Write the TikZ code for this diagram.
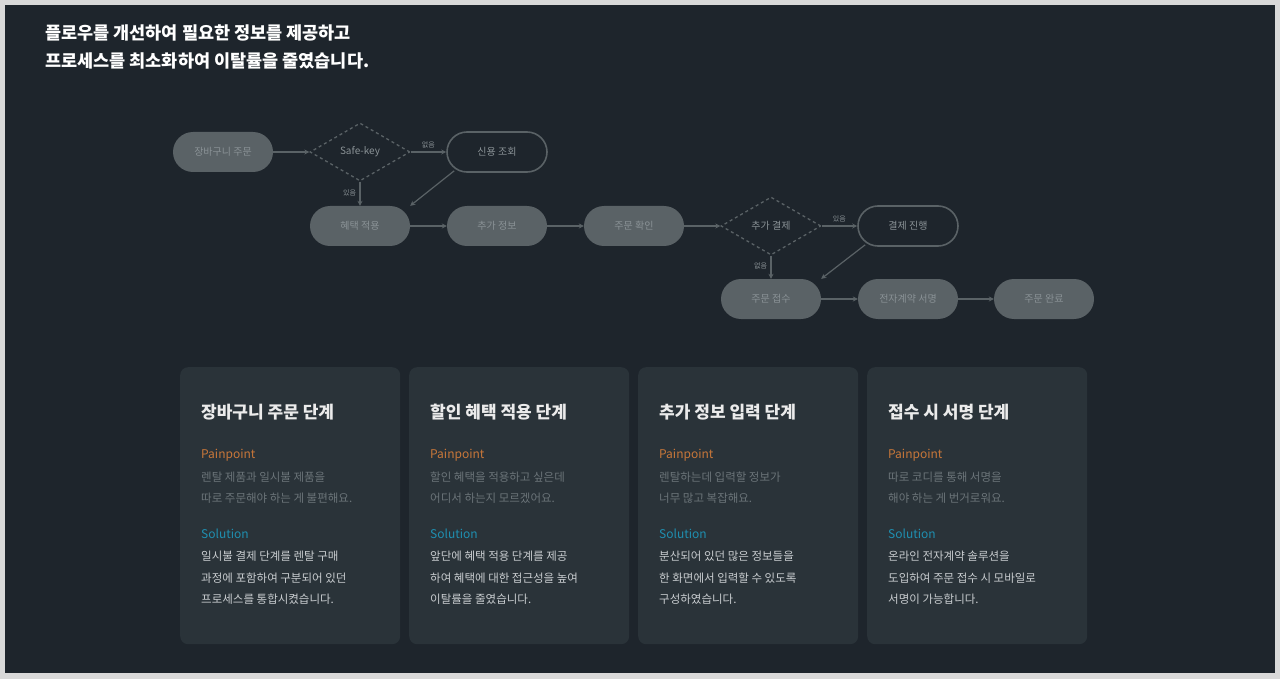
\documentclass[tikz,border=0pt]{standalone}
\usepackage{fontspec}
\setmainfont{Noto Sans CJK KR}
\usetikzlibrary{shapes.geometric,arrows.meta}
\definecolor{bg}{HTML}{1E252C}
\definecolor{pill}{HTML}{5A6266}
\definecolor{pilltxt}{HTML}{8A9296}
\definecolor{card}{HTML}{2A3339}
\definecolor{pain}{HTML}{C8773A}
\definecolor{sol}{HTML}{1F8FB0}
\definecolor{ptxt}{HTML}{6B7479}
\definecolor{stxt}{HTML}{C9CDD0}
\tikzset{
 fillpill/.style={rounded corners=20pt,fill=pill,minimum width=100pt,minimum height=40pt,text=pilltxt,font=\fontsize{10}{12}\selectfont,inner sep=0pt},
 linepill/.style={rounded corners=20pt,draw=pill,line width=1.6pt,minimum width=100pt,minimum height=40pt,text=pilltxt,font=\fontsize{10}{12}\selectfont,inner sep=0pt},
 dia/.style={diamond,draw=pill,dashed,line width=1.3pt,minimum width=100pt,minimum height=58pt,aspect=1.8,text=pilltxt,font=\fontsize{10}{12}\selectfont,inner sep=0pt},
 conn/.style={draw=pill,line width=1.2pt,-{Stealth[length=5pt,width=5pt]}},
 elab/.style={text=pilltxt,font=\fontsize{7}{8}\selectfont},
 cardbox/.style={fill=card,rounded corners=8pt,minimum width=220pt,minimum height=277pt,anchor=north west,inner sep=0pt},
 ttl/.style={anchor=west,inner sep=0pt,text=white,font=\bfseries\fontsize{17.5}{19}\selectfont},
 ctl/.style={anchor=west,inner sep=0pt,text=white!92!black,font=\bfseries\fontsize{17}{20}\selectfont},
 lbl/.style={anchor=west,inner sep=0pt,font=\fontsize{12}{14}\selectfont},
 bdy/.style={anchor=west,inner sep=0pt,font=\fontsize{11.5}{13}\selectfont},
}
\begin{document}
\begin{tikzpicture}[x=1pt,y=-1pt]
\useasboundingbox (0,0) rectangle (1280,679);
\fill[white!85!black] (0,0) rectangle (1280,679);
\fill[bg] (5,5) rectangle (1275,673);
\node[ttl] (t1) at (45,33) {플로우를 개선하여 필요한 정보를 제공하고};
\node[ttl] (t2) at (45,61) {프로세스를 최소화하여 이탈률을 줄였습니다.};

\node[fillpill] (cart) at (223,152) {장바구니 주문};
\node[dia] (sk) at (360,152) {Safe-key};
\node[linepill] (credit) at (497,152) {신용 조회};
\node[fillpill] (benefit) at (360,226) {혜택 적용};
\node[fillpill] (extra) at (497,226) {추가 정보};
\node[fillpill] (confirm) at (634,226) {주문 확인};
\node[dia] (addpay) at (771,226) {추가 결제};
\node[linepill] (pay) at (908,226) {결제 진행};
\node[fillpill] (recv) at (771,299) {주문 접수};
\node[fillpill] (sign) at (908,299) {전자계약 서명};
\node[fillpill] (done) at (1044,299) {주문 완료};

\draw[conn] (cart) -- (sk);
\draw[conn] (sk) -- node[elab,above,pos=0.5] (l1) {없음} (credit);
\draw[conn] (sk) -- node[elab,left,pos=0.45] (l2) {있음} (benefit);
\draw[conn] (credit.south west) ++(8,-2) coordinate (c1) (c1) -- (benefit.north east);
\draw[conn] (benefit) -- (extra);
\draw[conn] (extra) -- (confirm);
\draw[conn] (confirm) -- (addpay);
\draw[conn] (addpay) -- node[elab,above,pos=0.5] (l3) {있음} (pay);
\draw[conn] (addpay) -- node[elab,left,pos=0.45] (l4) {없음} (recv);
\draw[conn] (pay.south west) ++(8,-2) coordinate (c2) (c2) -- (recv.north east);
\draw[conn] (recv) -- (sign);
\draw[conn] (sign) -- (done);

\foreach \i/\x/\ti/\pa/\pb/\sa/\sb/\sc in {
 1/180/장바구니 주문 단계/렌탈 제품과 일시불 제품을/따로 주문해야 하는 게 불편해요./일시불 결제 단계를 렌탈 구매/과정에 포함하여 구분되어 있던/프로세스를 통합시켰습니다.,
 2/409/할인 혜택 적용 단계/할인 혜택을 적용하고 싶은데/어디서 하는지 모르겠어요./앞단에 혜택 적용 단계를 제공/하여 혜택에 대한 접근성을 높여/이탈률을 줄였습니다.,
 3/638/추가 정보 입력 단계/렌탈하는데 입력할 정보가/너무 많고 복잡해요./분산되어 있던 많은 정보들을/한 화면에서 입력할 수 있도록/구성하였습니다.,
 4/867/접수 시 서명 단계/따로 코디를 통해 서명을/해야 하는 게 번거로워요./온라인 전자계약 솔루션을/도입하여 주문 접수 시 모바일로/서명이 가능합니다.}{
 \node[cardbox] (card\i) at (\x,367) {};
 \node[ctl] (ct\i) at (\x+21,412) {\ti};
 \node[lbl,text=pain] (pp\i) at (\x+21,455) {Painpoint};
 \node[bdy,text=ptxt] (pa\i) at (\x+21,477) {\pa};
 \node[bdy,text=ptxt] (pb\i) at (\x+21,498) {\pb};
 \node[lbl,text=sol] (so\i) at (\x+21,534) {Solution};
 \node[bdy,text=stxt] (sa\i) at (\x+21,556) {\sa};
 \node[bdy,text=stxt] (sb\i) at (\x+21,578) {\sb};
 \node[bdy,text=stxt] (sc\i) at (\x+21,599) {\sc};
}
\end{tikzpicture}
\end{document}
